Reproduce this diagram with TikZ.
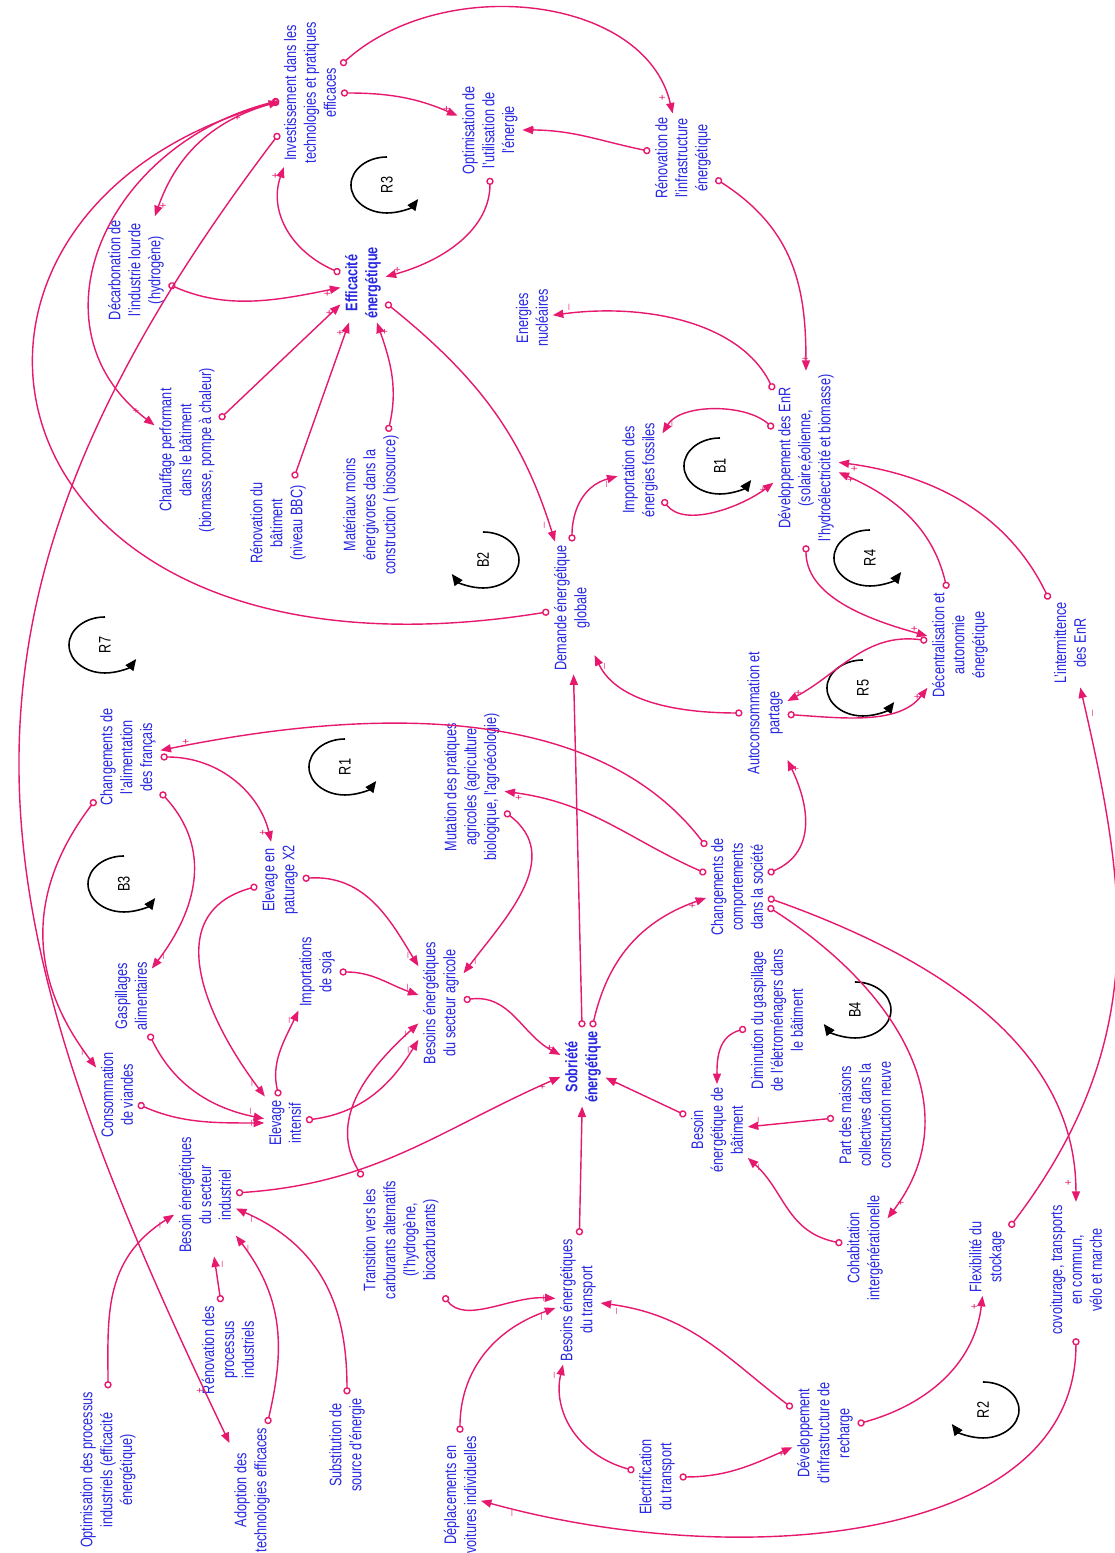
\documentclass[tikz,border=0pt]{standalone}
\usepackage{fontspec}
\setmainfont{Liberation Sans}
\usepackage{tikz}
\usetikzlibrary{arrows.meta, positioning, calc}
\definecolor{cldblue}{RGB}{40,40,225}
\definecolor{cldpink}{RGB}{230,25,110}

\begin{document}
\begin{tikzpicture}[
    x=0.02632cm, y=0.02cm, rotate=90, xscale=0.76, transform shape,
    var/.style={text=cldblue, font=\fontsize{9.5}{11.34}\selectfont, align=center, inner sep=2.5pt},
    key/.style={var, font=\fontsize{9.5}{11.34}\selectfont\bfseries},
    link/.style={draw=cldpink, line width=0.8pt, arrows={Circle[open,length=4.2pt,width=4.2pt]-Triangle[length=6pt,width=4.6pt]}},
    sgn/.style={pos=0.97, auto, text=cldpink, font=\fontsize{7}{7}\selectfont, inner sep=1.5pt},
    looplab/.style={font=\fontsize{9.5}{11.34}\selectfont},
    loopar/.style={line width=0.9pt, -{Triangle[length=6.5pt,width=5.5pt]}},
]
  \fill[white] (0,0) rectangle (-1553,-1115);
  \useasboundingbox (0,0) rectangle (-1553,-1115);

  % efficacite
  \node[var] (inv) at (-93,-310) {Investissement dans les\\technologies et pratiques\\efficaces};
  \node[var] (opt) at (-130,-490) {Optimisation de\\l'utilisation de\\l'énergie};
  \node[var] (renov_infra) at (-158,-683) {Rénovation de\\l'infrastructure\\énergétique};
  \node[key] (eff) at (-283,-363) {Efficacité\\énergétique};
  \node[var] (decarb) at (-270,-136) {Décarbonation de\\l'industrie lourde\\(hydrogène)};
  \node[var] (nucl) at (-318,-532) {Energies\\nucléaires};
  \node[var] (chauff) at (-450,-187) {Chauffage performant\\dans le bâtiment\\(biomasse, pompe à chaleur)};
  \node[var] (renov_bat) at (-523,-278) {Rénovation du\\bâtiment\\(niveau BBC)};
  \node[var] (mat) at (-505,-371) {Matériaux moins\\énergivores dans la\\construction ( biosource)};

  % energie
  \node[var] (dem) at (-608,-572) {Demande énergétique\\globale};
  \node[var] (imp) at (-470,-640) {Importation des\\énergies fossiles};
  \node[var] (dev_enr) at (-458,-806) {Développement des EnR\\(solaire,éolienne,\\l'hydroélectricité et biomasse)};
  \node[var] (decentr) at (-645,-960) {Décentralisation et\\autonomie\\énergétique};
  \node[var] (interm) at (-643,-1070) {L'intermittence\\des EnR};
  \node[var] (autocons) at (-713,-765) {Autoconsommation et\\partage};

  % alimentation
  \node[var] (chang_alim) at (-757,-128) {Changements de\\l'alimentation\\des français};
  \node[var] (mutation) at (-787,-472) {Mutation des pratiques\\agricoles (agriculture\\biologique, l'agroécologie)};
  \node[var] (chang_comp) at (-887,-737) {Changements de\\comportements\\dans la société};
  \node[var] (conso) at (-1095,-117) {Consommation\\de viandes};
  \node[var] (gasp) at (-996,-131) {Gaspillages\\alimentaires};
  \node[var] (elev_pat) at (-880,-280) {Elevage en\\paturage X2};
  \node[var] (imp_soja) at (-972,-317) {Importations\\de soja};
  \node[var] (elev_int) at (-1123,-285) {Elevage\\intensif};
  \node[var] (bes_agr) at (-1003,-441) {Besoins énergétiques\\du secteur agricole};
  \node[key] (sob) at (-1067,-583) {Sobriété\\énergétique};

  % batiment
  \node[var] (bes_bat) at (-1130,-717) {Besoin\\énergétique de\\bâtiment};
  \node[var] (dim_gasp) at (-1020,-777) {Diminution du gaspillage\\de l'életroménagers dans\\le bâtiment};
  \node[var] (part) at (-1115,-865) {Part des maisons\\collectives dans la\\construction neuve};
  \node[var] (cohab) at (-1248,-865) {Cohabitation\\intergénérationelle};
  \node[var] (flex) at (-1257,-987) {Flexibilité du\\stockage};
  \node[var] (covoit) at (-1270,-1076) {covoiturage, transports\\en commun,\\vélo et marche};

  % industrie
  \node[var] (bes_ind) at (-1195,-205) {Besoin énergétiques\\du secteur\\industriel};
  \node[var] (optim_proc) at (-1470,-108) {Optimisation des processus\\industriels (efficacité\\énergétique)};
  \node[var] (renov_proc) at (-1350,-228) {Rénovation des\\processus\\industriels};
  \node[var] (adoption) at (-1490,-252) {Adoption des\\technologies efficaces};
  \node[var] (subst) at (-1445,-347) {Substitution de\\source d'énergie};

  % transport
  \node[var] (transition) at (-1240,-401) {Transition vers les\\carburants alternatifs\\(l'hydrogène,\\biocarburants)};
  \node[var] (bes_transp) at (-1300,-578) {Besoins énergétiques\\du transport};
  \node[var] (depl_voit) at (-1495,-460) {Déplacements en\\voitures individuelles};
  \node[var] (electrif) at (-1477,-657) {Electrification\\du transport};
  \node[var] (dev_infra) at (-1433,-825) {Développement\\d'infrastructure de\\recharge};

  % boucles
  \node[looplab] (r7) at (-645,-105) {R7};
  \node[looplab] (r3) at (-185,-387) {R3};
  \node[looplab] (b2) at (-560,-483) {B2};
  \node[looplab] (b1) at (-466,-720) {B1};
  \node[looplab] (r4) at (-558,-870) {R4};
  \node[looplab] (r5) at (-688,-863) {R5};
  \node[looplab] (r1) at (-767,-345) {R1};
  \node[looplab] (b3) at (-884,-124) {B3};
  \node[looplab] (b4) at (-1010,-855) {B4};
  \node[looplab] (r2) at (-1410,-983) {R2};
  \draw[loopar] (r7.center) ++(28,0) arc[start angle=0, end angle=240, x radius=28, y radius=36];
  \draw[loopar] (r3.center) ++(28,0) arc[start angle=0, end angle=240, x radius=28, y radius=36];
  \draw[loopar] (b2.center) ++(28,0) arc[start angle=0, end angle=-240, x radius=28, y radius=36];
  \draw[loopar] (b1.center) ++(28,0) arc[start angle=0, end angle=240, x radius=28, y radius=36];
  \draw[loopar] (r4.center) ++(28,0) arc[start angle=0, end angle=240, x radius=28, y radius=36];
  \draw[loopar] (r5.center) ++(28,0) arc[start angle=0, end angle=240, x radius=28, y radius=36];
  \draw[loopar] (r1.center) ++(28,0) arc[start angle=0, end angle=240, x radius=28, y radius=36];
  \draw[loopar] (b3.center) ++(28,0) arc[start angle=0, end angle=240, x radius=28, y radius=36];
  \draw[loopar] (b4.center) ++(28,0) arc[start angle=0, end angle=-240, x radius=28, y radius=36];
  \draw[loopar] (r2.center) ++(28,0) arc[start angle=0, end angle=-240, x radius=28, y radius=36];

  % liens efficacite
  \draw[link] (dem) to[out=102, in=110, out looseness=2.1, in looseness=1.5] node[sgn]{+} (inv);
  \draw[link] (eff) to[out=60, in=165] node[sgn]{+} (inv);
  \draw[link] (inv) to[out=110, in=-15] node[sgn]{+} (decarb);
  \draw[link] (inv) to[out=108, in=45, looseness=1.05] node[sgn]{+} (chauff);
  \draw[link] (inv) to[out=-90, in=60] node[sgn]{+} (opt);
  \draw[link] (inv) to[out=-40, in=10, looseness=1.2] node[sgn]{+} (renov_infra);
  \draw[link] (inv) to[out=150, in=20, looseness=1.1] node[sgn]{+} (adoption);
  \draw[link] (decarb) to[out=240, in=105] node[sgn]{+} (eff);
  \draw[link] (chauff) -- node[sgn]{+} (eff);
  \draw[link] (renov_bat) -- node[sgn]{+} (eff);
  \draw[link] (mat) to[out=-10, in=195] node[sgn]{+} (eff);
  \draw[link] (opt) to[out=180, in=-70] node[sgn]{+} (eff);
  \draw[link] (renov_infra) to[out=75, in=-90] node[sgn]{+} (opt);
  \draw[link] (renov_infra) to[out=-130, in=0] node[sgn]{+} (dev_enr);
  \draw[link] (dev_enr) to[out=20, in=-80] node[sgn]{$-$} (nucl);
  \draw[link] (eff) to[bend left=15] node[sgn]{$-$} (dem);

  % liens energie
  \draw[link] (dem) to[out=0, in=110] node[sgn]{$-$} (imp);
  \draw[link] (dev_enr) to[out=40, in=-25] node[sgn]{$-$} (imp);
  \draw[link] (imp) to[out=-150, in=135] node[sgn]{+} (dev_enr);
  \draw[link] (dev_enr) to[out=-180, in=70] node[sgn]{+} (decentr);
  \draw[link] (decentr) to[out=10, in=-120] node[sgn]{+} (dev_enr);
  \draw[link] (interm) to[out=20, in=-100] node[sgn]{+} (dev_enr);
  \draw[link] (decentr) to[out=80, in=-55] node[sgn]{+} (autocons);
  \draw[link] (autocons) to[out=-95, in=150] node[sgn]{+} (decentr);
  \draw[link] (chang_comp) to[out=-60, in=-160] node[sgn]{+} (autocons);
  \draw[link] (autocons) to[out=90, in=-160] node[sgn]{$-$} (dem);
  \draw[link] (sob) -- node[sgn]{$-$} (dem);
  \draw[link] (flex) to[out=-30, in=190] node[sgn]{$-$} (interm);

  % liens comportements et alimentation
  \draw[link] (sob) to[out=-10, in=115] node[sgn]{+} (chang_comp);
  \draw[link] (chang_comp) to[out=60, in=-100] node[sgn]{+} (mutation);
  \draw[link] (chang_comp) to[out=30, in=-75] node[sgn]{+} (chang_alim);
  \draw[link] (chang_comp) to[out=-130, in=-30] node[sgn]{+} (cohab);
  \draw[link] (chang_comp) to[out=-115, in=0] node[sgn]{+} (covoit);
  \draw[link] (chang_alim) to[out=-90, in=10] node[sgn]{+} (elev_pat);
  \draw[link] (chang_alim) to[out=-145, in=-30] node[sgn]{$-$} (gasp);
  \draw[link] (chang_alim) to[out=150, in=30] node[sgn]{$-$} (conso);
  \draw[link] (conso) to[out=-120, in=90] node[sgn]{$-$} (elev_int);
  \draw[link] (gasp) to[out=-160, in=75] node[sgn]{$-$} (elev_int);
  \draw[link] (elev_pat) to[out=110, in=30] node[sgn]{$-$} (elev_int);
  \draw[link] (elev_int) to[out=10, in=160] node[sgn]{$-$} (imp_soja);
  \draw[link] (elev_pat) to[out=-85, in=25] node[sgn]{$-$} (bes_agr);
  \draw[link] (imp_soja) to[out=-90, in=65] node[sgn]{$-$} (bes_agr);
  \draw[link] (elev_int) to[out=-80, in=155] node[sgn]{$-$} (bes_agr);
  \draw[link] (transition) to[out=25, in=140] node[sgn]{$-$} (bes_agr);
  \draw[link] (mutation) to[out=-135, in=-30] node[sgn]{$-$} (bes_agr);
  \draw[link] (bes_agr) to[out=-80, in=55] node[sgn]{+} (sob);

  % liens batiment et industrie
  \draw[link] (bes_ind) to[out=-85, in=120] node[sgn]{+} (sob);
  \draw[link] (bes_bat) -- node[sgn]{+} (sob);
  \draw[link] (bes_transp) -- node[sgn]{+} (sob);
  \draw[link] (dim_gasp) to[out=110, in=0] node[sgn]{$-$} (bes_bat);
  \draw[link] (part) -- node[sgn]{$-$} (bes_bat);
  \draw[link] (cohab) to[out=75, in=220] node[sgn]{$-$} (bes_bat);
  \draw[link] (optim_proc) to[out=0, in=130] node[sgn]{$-$} (bes_ind);
  \draw[link] (renov_proc) -- node[sgn]{$-$} (bes_ind);
  \draw[link] (adoption) to[out=-10, in=210] node[sgn]{$-$} (bes_ind);
  \draw[link] (subst) to[out=0, in=240] node[sgn]{$-$} (bes_ind);

  % liens transport
  \draw[link] (transition) to[out=-150, in=85] node[sgn]{$-$} (bes_transp);
  \draw[link] (depl_voit) to[out=0, in=115] node[sgn]{$-$} (bes_transp);
  \draw[link] (electrif) to[out=70, in=170] node[sgn]{$-$} (bes_transp);
  \draw[link] (dev_infra) to[out=45, in=-100] node[sgn]{$-$} (bes_transp);
  \draw[link] (electrif) to[out=-90, in=120] node[sgn]{+} (dev_infra);
  \draw[link] (dev_infra) to[out=-70, in=175] node[sgn]{+} (flex);
  \draw[link] (covoit) to[out=180, in=-110, looseness=1.1] node[sgn]{$-$} (depl_voit);
\end{tikzpicture}
\end{document}
